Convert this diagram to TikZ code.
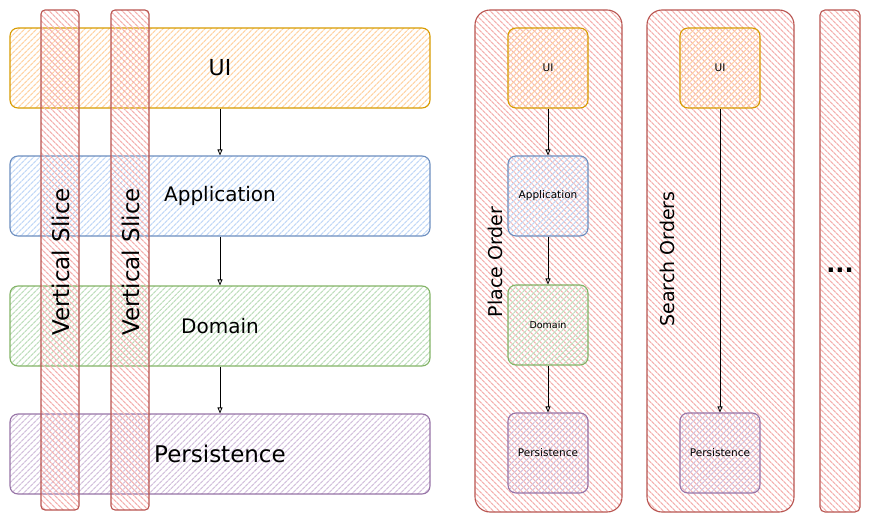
\documentclass[tikz,border=0pt]{standalone}
\usepackage{fontspec}
\setmainfont{DejaVu Sans}
\usetikzlibrary{patterns.meta,arrows.meta}
\definecolor{uiD}{HTML}{D79B00}\definecolor{uiF}{HTML}{FFD4A6}
\definecolor{apD}{HTML}{6C8EBF}\definecolor{apF}{HTML}{C3D9F7}
\definecolor{doD}{HTML}{82B366}\definecolor{doF}{HTML}{C0DFBE}
\definecolor{peD}{HTML}{9673A6}\definecolor{peF}{HTML}{D4C2DD}
\definecolor{rdD}{HTML}{B85450}\definecolor{rdF}{HTML}{F4B2B0}
\tikzset{
  hatchA/.style={pattern={Lines[angle=45,distance=4pt,line width=1.3pt]}},
  hatchB/.style={pattern={Lines[angle=-45,distance=4pt,line width=1.3pt]}},
  layer/.style={draw=#1D, hatchA, pattern color=#1F, line width=1.1pt, rounded corners=8pt,
     minimum width=420pt, minimum height=80pt, inner sep=0pt, font=\fontsize{20}{22}\selectfont},
  small/.style={draw=#1D, hatchA, pattern color=#1F, line width=1.1pt, rounded corners=8pt,
     minimum width=80pt, minimum height=80pt, inner sep=0pt, font=\fontsize{10.5}{12}\selectfont},
  slice/.style={draw=rdD, hatchB, pattern color=rdF, line width=1.1pt, rounded corners=4pt,
     minimum width=38pt, minimum height=500pt, inner sep=0pt},
  cont/.style={draw=rdD, hatchB, pattern color=rdF, line width=1.1pt, rounded corners=15pt,
     minimum width=147pt, minimum height=502pt, inner sep=0pt},
  vlabel/.style={rotate=90, font=\fontsize{#1}{24}\selectfont, inner sep=0pt},
  arr/.style={-{Triangle[open,length=6pt,width=5pt]}, line width=0.8pt, black},
}
\begin{document}
\begin{tikzpicture}[x=1pt,y=-1pt]
\useasboundingbox (0,0) rectangle (871,522);
% left layered view
\node[layer=ui] (ui) at (220,68) {\fontsize{22}{24}\selectfont UI};
\node[layer=ap] (ap) at (220,196) {Application};
\node[layer=do] (do) at (220,326) {Domain};
\node[layer=pe] (pe) at (220,454) {\fontsize{23}{24}\selectfont Persistence};
\node[slice] (s1) at (60,260) {};
\node[slice] (s2) at (130,260) {};
\node[vlabel=23] (t1) at (61,262) {Vertical Slice};
\node[vlabel=23] (t2) at (131,262) {Vertical Slice};
\draw[arr] (ui.south) -- (ap.north);
\draw[arr] (ap.south) -- (do.north);
\draw[arr] (do.south) -- (pe.north);
% place order
\node[cont] (c1) at (548.5,261) {};
\node[vlabel=19] (l1) at (495,262) {Place Order};
\node[small=ui] (pui) at (548,68) {UI};
\node[small=ap] (pap) at (548,196) {Application};
\node[small=do] (pdo) at (548,325) {\fontsize{9.5}{12}\selectfont Domain};
\node[small=pe] (ppe) at (548,453) {Persistence};
\draw[arr] (pui.south) -- (pap.north);
\draw[arr] (pap.south) -- (pdo.north);
\draw[arr] (pdo.south) -- (ppe.north);
% search orders
\node[cont] (c2) at (720.5,261) {};
\node[vlabel=19] (l2) at (667,259) {Search Orders};
\node[small=ui] (sui) at (720,68) {UI};
\node[small=pe] (spe) at (720,453) {Persistence};
\draw[arr] (sui.south) -- (spe.north);
% more
\node[cont, minimum width=40pt, rounded corners=5pt] (c3) at (840,261) {};
\node[font=\fontsize{24}{26}\selectfont\bfseries, inner sep=0pt] (dots) at (840,270) {...};
\end{tikzpicture}
\end{document}
